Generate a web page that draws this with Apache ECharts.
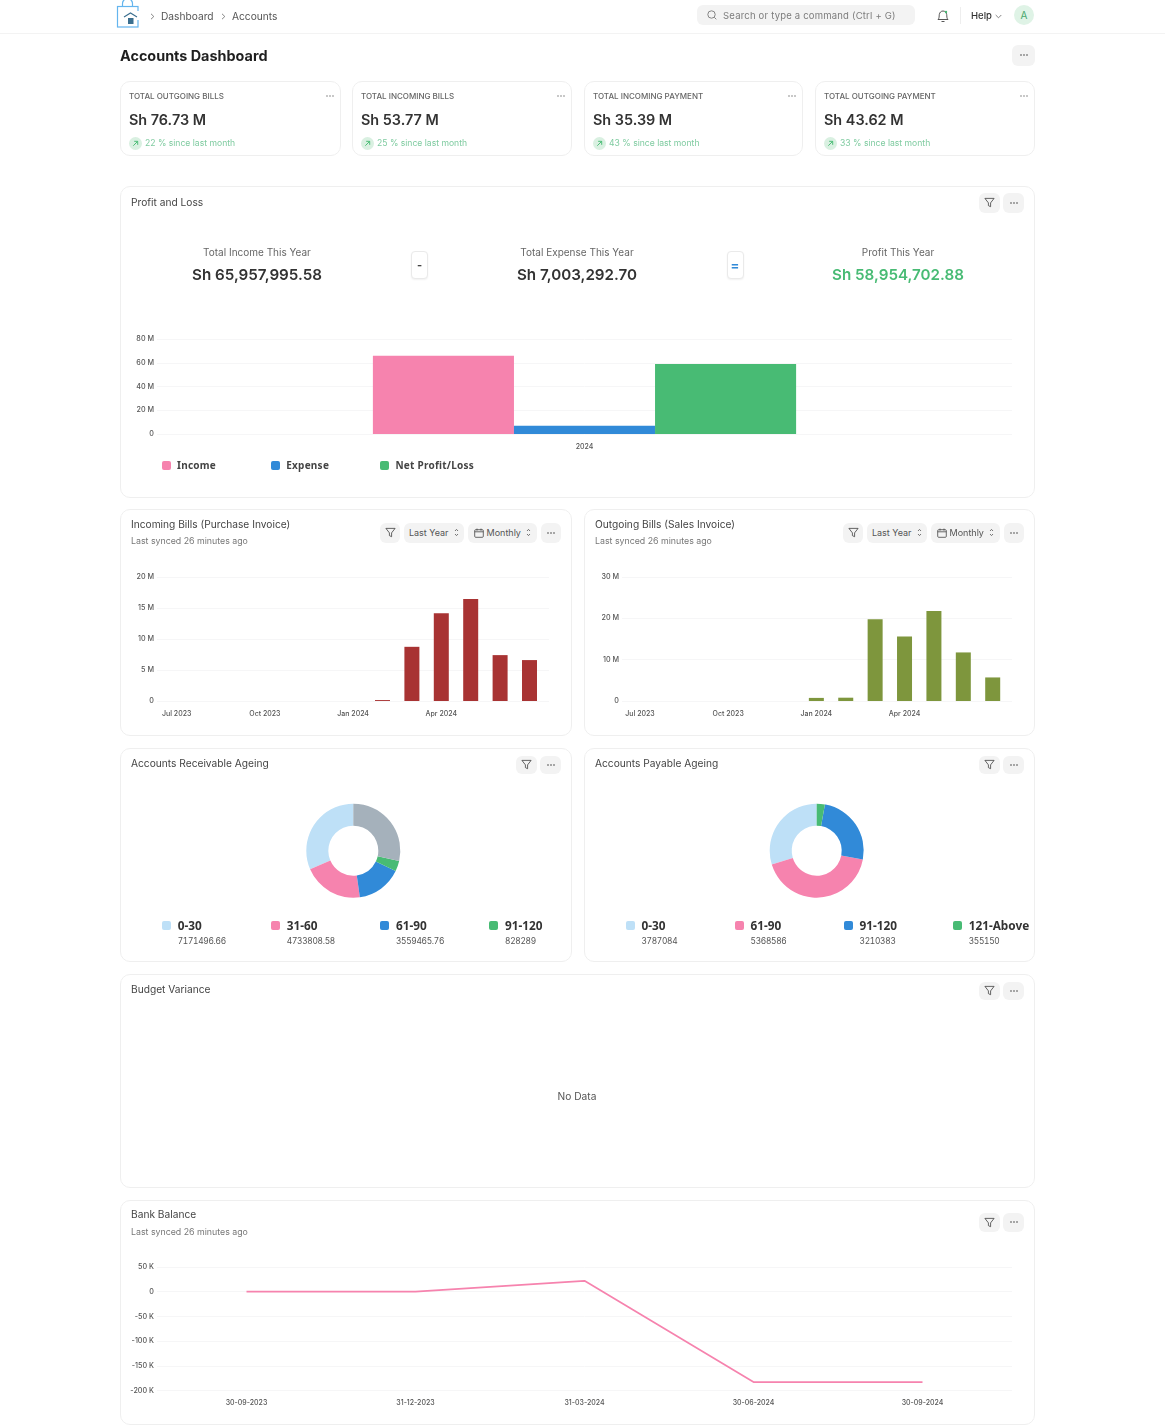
<!doctype html>
<html lang="en">

<head>
    <meta charset="utf-8">
    <title>Accounts Dashboard</title>
    <script src="https://cdn.jsdelivr.net/npm/echarts@6/dist/echarts.min.js"></script>
    <style>
        html, body { margin: 0; background: #fff; }
        body { position: relative; width: 1165px; height: 1428px; overflow: hidden; font-family: Inter, "Noto Sans", sans-serif; color: #444; }
        #page { position: absolute; left: 0; top: 0; width: 1165px; height: 1428px; filter: blur(.3px); }
        .abs { position: absolute; white-space: nowrap; line-height: 1; }
        .abs svg { display: block; }
        .card { position: absolute; box-sizing: border-box; border: 1px solid #efefef; border-radius: 10px; background: #fff; }
        .btn { position: absolute; box-sizing: border-box; background: #f3f3f3; border-radius: 6px; display: flex; align-items: center; justify-content: center; font-size: 9px; line-height: 1; padding-bottom: 1px; color: #555; gap: 3px; white-space: nowrap; }
        .chart { position: absolute; }
        .sw { position: absolute; width: 9px; height: 9px; border-radius: 2px; }
        .op { position: absolute; box-sizing: border-box; width: 17px; height: 28px; background: #fff; border: 1px solid #eaeaea; border-radius: 4px; display: flex; align-items: center; justify-content: center; font-size: 11px; font-weight: 700; box-shadow: 0 1px 2px rgba(0,0,0,.06); }
    </style>
</head>

<body>
    <div id="page"></div>
    <script>
        // data
        var kpiLabels = ['TOTAL OUTGOING BILLS', 'TOTAL INCOMING BILLS', 'TOTAL INCOMING PAYMENT', 'TOTAL OUTGOING PAYMENT'];
        var kpiValues = ['Sh 76.73 M', 'Sh 53.77 M', 'Sh 35.39 M', 'Sh 43.62 M'];
        var kpiChanges = [22, 25, 43, 33];

        var plLabels = ['2024'];
        var plNames = ['Income', 'Expense', 'Net Profit/Loss'];
        var plValues = [65957995.58, 7003292.70, 58954702.88];

        var months = ['Jul 2023', 'Aug 2023', 'Sep 2023', 'Oct 2023', 'Nov 2023', 'Dec 2023', 'Jan 2024', 'Feb 2024', 'Mar 2024', 'Apr 2024', 'May 2024', 'Jun 2024', 'Jul 2024'];
        var incomingBills = [0, 0, 0, 0, 0, 0, 0, 150000, 8740000, 14150000, 16460000, 7400000, 6600000];
        var outgoingBills = [0, 0, 0, 0, 0, 0, 750000, 800000, 19800000, 15600000, 21800000, 11750000, 5700000];

        var receivableNames = ['0-30', '31-60', '61-90', '91-120', '121-Above'];
        var receivableValues = [7171496.66, 4733808.58, 3559465.76, 828289, 6500000];
        var payableNames = ['0-30', '61-90', '91-120', '121-Above'];
        var payableValues = [3787084, 5368586, 3210383, 355150];

        var bankDates = ['30-09-2023', '31-12-2023', '31-03-2024', '30-06-2024', '30-09-2024'];
        var bankValues = [0, 0, 22000, -183000, -183000];

        var PINK = '#f683ae', BLUE = '#318ad8', GREEN = '#48bb74', LIGHT = '#bee0f7', GREY = '#a5b1bb';
        var legendColors = [LIGHT, PINK, BLUE, GREEN];

        var page = document.getElementById('page');
        function add(html) { page.insertAdjacentHTML('beforeend', html); }
        function text(x, cy, size, str, extra) {
            add('<div class="abs" style="left:' + x + 'px;top:' + (cy - size / 2) + 'px;font-size:' + size + 'px;' + (extra || '') + '">' + str + '</div>');
        }
        function centerText(cx, cy, size, str, extra) {
            text(cx, cy, size, str, 'transform:translateX(-50%);' + (extra || ''));
        }
        function card(x, y, x2, y2) {
            add('<div class="card" style="left:' + x + 'px;top:' + y + 'px;width:' + (x2 - x) + 'px;height:' + (y2 - y) + 'px"></div>');
        }
        function btn(x, y, x2, y2, inner) {
            add('<div class="btn" style="left:' + x + 'px;top:' + y + 'px;width:' + (x2 - x) + 'px;height:' + (y2 - y) + 'px">' + inner + '</div>');
        }

        var icoDots = '<svg width="10" height="4" viewBox="0 0 10 4"><g fill="#444"><circle cx="2" cy="2" r=".8"/><circle cx="5" cy="2" r=".8"/><circle cx="8" cy="2" r=".8"/></g></svg>';
        var icoFilter = '<svg width="11" height="11" viewBox="0 0 12 12" fill="none" stroke="#444" stroke-width=".9"><path d="M1 1.5h10L7.2 6.4v4.2L4.8 9.4v-3z"/></svg>';
        var icoSort = '<svg width="5" height="9" viewBox="0 0 5 9" fill="none" stroke="#555" stroke-width=".8"><path d="M1 3l1.500-1.600L4 3M1 6l1.500 1.600L4 6"/></svg>';
        var icoCal = '<svg width="10" height="10" viewBox="0 0 10 10" fill="none" stroke="#444" stroke-width=".8"><rect x=".7" y="1.700" width="8.600" height="7.600" rx="1"/><path d="M.7 3.800h8.600M3 .6v2M7 .6v2"/></svg>';
        var icoArrow = '<svg width="7" height="7" viewBox="0 0 8 8" fill="none" stroke="#48bb74" stroke-width="1.100"><path d="M1.500 6.500l5-5M2.500 1.500h4v4"/></svg>';
        var icoChevron = '<svg width="5" height="7" viewBox="0 0 5 7" fill="none" stroke="#666" stroke-width=".8"><path d="M1 .8l2.800 2.700L1 6.200"/></svg>';

        // navbar
        add('<div class="abs" style="left:0;top:33px;width:1165px;height:1px;background:#f3f3f3"></div>');
        add('<svg class="abs" style="left:116px;top:0" width="26" height="28" viewBox="0 0 26 28" fill="none"><rect x="1.500" y="6.500" width="20.500" height="20.500" stroke="#64b5ee" stroke-width="1.200"/><path d="M6.500 6.500V3.500a5 5 0 0 1 10 0v3" stroke="#64b5ee" stroke-width="1.200"/><rect x="5" y="11" width="19" height="9" fill="#fff"/><path d="M8 17l6.500-4 6.500 4" stroke="#3b6f8f" stroke-width="1.100"/><rect x="12" y="18" width="5.500" height="6" fill="#3b6f8f"/></svg>');
        add('<div class="abs" style="left:149.500px;top:13px">' + icoChevron + '</div>');
        text(161, 16.500, 10.200, 'Dashboard', 'color:#555');
        add('<div class="abs" style="left:220.500px;top:13px">' + icoChevron + '</div>');
        text(232, 16.500, 10.200, 'Accounts', 'color:#555');
        add('<div class="abs" style="left:697px;top:5px;width:218px;height:20px;background:#f3f3f3;border-radius:6px"></div>');
        add('<svg class="abs" style="left:707px;top:10px" width="10" height="10" viewBox="0 0 10 10" fill="none" stroke="#777" stroke-width=".9"><circle cx="4.500" cy="4.500" r="3.700"/><path d="M7.300 7.300L9.300 9.300"/></svg>');
        text(723, 16, 9.500, 'Search or type a command (Ctrl + G)', 'color:#7c7c7c;letter-spacing:.2px');
        add('<svg class="abs" style="left:937px;top:9px" width="12" height="14" viewBox="0 0 12 14" fill="none" stroke="#444" stroke-width=".9"><path d="M1 10.500c1.500-1.500 1-3 1.300-5C2.600 3.500 4 2 6 2s3.400 1.500 3.700 3.500c.3 2-.2 3.500 1.300 5zM4.500 12.500h3"/><circle cx="9" cy="3" r="1.200" fill="#48bb74" stroke="none"/></svg>');
        add('<div class="abs" style="left:960px;top:7px;width:1px;height:17px;background:#eee"></div>');
        text(971, 16, 9.500, 'Help', 'color:#333;font-weight:500');
        add('<svg class="abs" style="left:995px;top:14px" width="7" height="5" viewBox="0 0 7 5" fill="none" stroke="#666" stroke-width=".8"><path d="M.7 1l2.800 2.800L6.300 1"/></svg>');
        add('<div class="abs" style="left:1014px;top:5px;width:20px;height:20px;border-radius:50%;background:#dff3e6;color:#48a86c;font-size:10px;display:flex;align-items:center;justify-content:center">A</div>');

        // heading
        text(120, 56.200, 14.400, 'Accounts Dashboard', 'color:#1f1f1f;font-weight:700');
        btn(1012, 45, 1035, 66, icoDots);

        // kpi cards
        var kpiX = [[120, 341], [352, 572], [584, 803], [815, 1035]];
        kpiX.forEach(function (r, i) {
            card(r[0], 81, r[1], 156);
            var l = r[0] + 9;
            text(l, 96, 8, kpiLabels[i], 'color:#666;font-weight:500');
            text(l, 120, 14.400, kpiValues[i], 'color:#333;font-weight:600');
            add('<div class="abs" style="left:' + l + 'px;top:137px;width:13px;height:13px;border-radius:50%;background:#d9f0e1;display:flex;align-items:center;justify-content:center">' + icoArrow + '</div>');
            text(l + 16, 143.500, 8.600, kpiChanges[i] + ' % since last month', 'color:#7fcba0');
            add('<svg class="abs" style="left:' + (r[1] - 16) + 'px;top:93.500px" width="10" height="4" viewBox="0 0 10 4"><g fill="#666"><circle cx="2" cy="2" r=".7"/><circle cx="5" cy="2" r=".7"/><circle cx="8" cy="2" r=".7"/></g></svg>');
        });

        // profit and loss
        card(120, 186, 1035, 497.500);
        text(131, 202, 10.200, 'Profit and Loss', 'color:#444');
        btn(979, 193, 1000, 213, icoFilter);
        btn(1003, 193, 1024, 213, icoDots);
        centerText(257, 252, 10, 'Total Income This Year', 'color:#666');
        centerText(257, 274.500, 15.200, 'Sh 65,957,995.58', 'color:#333;font-weight:600');
        centerText(577, 252, 10, 'Total Expense This Year', 'color:#666');
        centerText(577, 274.500, 15.200, 'Sh 7,003,292.70', 'color:#333;font-weight:600');
        centerText(898, 252, 10, 'Profit This Year', 'color:#666');
        centerText(898, 274.500, 15.200, 'Sh 58,954,702.88', 'color:' + GREEN + ';font-weight:600');
        add('<div class="op" style="left:411px;top:251px;color:#444">-</div>');
        add('<div class="op" style="left:726.500px;top:251px;color:' + BLUE + ';font-size:13px">=</div>');
        [PINK, BLUE, GREEN].forEach(function (c, i) {
            var x = 162 + i * 109.200;
            add('<div class="sw" style="left:' + x + 'px;top:461px;background:' + c + '"></div>');
            text(x + 15, 465, 10, plNames[i], 'color:#444;font-family:\'Noto Sans\',sans-serif;font-weight:700;letter-spacing:.25px');
        });

        // bills cards
        function billsChrome(x, x2, title, cx) {
            card(x, 509, x2, 736);
            text(x + 11, 524.500, 10.200, title);
            text(x + 11, 541.500, 8.800, 'Last synced 26 minutes ago', 'color:#777');
            btn(cx, 523, cx + 20, 543, icoFilter);
            btn(cx + 24, 523, cx + 84, 543, 'Last Year&nbsp;' + icoSort);
            btn(cx + 88, 523, cx + 157, 543, icoCal + 'Monthly&nbsp;' + icoSort);
            btn(cx + 161, 523, cx + 181, 543, icoDots);
        }
        billsChrome(120, 572, 'Incoming Bills (Purchase Invoice)', 380);
        billsChrome(584, 1035, 'Outgoing Bills (Sales Invoice)', 843);

        // ageing cards
        function ageingChrome(x, x2, title, names, values, swX, fx) {
            card(x, 748, x2, 962);
            text(x + 11, 763.500, 10.200, title);
            btn(fx, 756, fx + 21, 774, icoFilter);
            btn(fx + 24, 756, fx + 45, 774, icoDots);
            for (var i = 0; i < 4; i++) {
                var sx = swX + i * 109.100;
                add('<div class="sw" style="left:' + sx + 'px;top:921px;background:' + legendColors[i] + '"></div>');
                text(sx + 15.700, 925.500, 11.800, names[i], 'color:#333;font-family:\'Noto Sans\',sans-serif;font-weight:700');
                text(sx + 15.700, 941, 8.400, String(values[i]), 'color:#555;font-variant-numeric:tabular-nums;letter-spacing:-.3px');
            }
        }
        ageingChrome(120, 572, 'Accounts Receivable Ageing', receivableNames, receivableValues, 162, 516);
        ageingChrome(584, 1035, 'Accounts Payable Ageing', payableNames, payableValues, 625.700, 979);

        // budget variance
        card(120, 974, 1035, 1188);
        text(131, 989.500, 10.200, 'Budget Variance');
        btn(979, 982, 1000, 1000, icoFilter);
        btn(1003, 982, 1024, 1000, icoDots);
        centerText(577, 1096.500, 10.200, 'No Data', 'color:#555');

        // bank balance
        card(120, 1200, 1035, 1424.500);
        text(131, 1214.500, 10.200, 'Bank Balance');
        text(131, 1232, 8.800, 'Last synced 26 minutes ago', 'color:#777');
        btn(979, 1213, 1000, 1232, icoFilter);
        btn(1003, 1213, 1024, 1232, icoDots);

        // charts
        var AXIS_COLOR = '#555';

        // box: chart div; g: area of the grid lines; inner: left/right of the category band
        function axisChart(box, g, inner, yScale, cats, labelFilter, series, fmt) {
            var div = document.createElement('div');
            div.className = 'chart';
            div.style.cssText = 'left:' + box.x + 'px;top:' + box.y + 'px;width:' + box.w + 'px;height:' + box.h + 'px';
            page.appendChild(div);
            var chart = echarts.init(div, null, { renderer: 'canvas' });
            var top = g.top - box.y, height = g.bottom - g.top;
            series.forEach(function (s) { s.xAxisIndex = 1; s.yAxisIndex = 1; s.silent = true; s.animation = false; });
            chart.setOption({
                animation: false,
                grid: [
                    { left: g.left - box.x, width: g.right - g.left, top: top, height: height },
                    { left: inner.left - box.x, width: inner.right - inner.left, top: top, height: height }
                ],
                xAxis: [
                    { gridIndex: 0, type: 'category', data: cats, show: false },
                    {
                        gridIndex: 1, type: 'category', data: cats, position: 'bottom',
                        axisLine: { show: false },
                        axisTick: { alignWithLabel: true, length: 3, lineStyle: { color: '#ececec' } },
                        axisLabel: { margin: 9, interval: labelFilter, fontFamily: 'Inter', fontSize: 7, fontWeight: 500, color: AXIS_COLOR }
                    }
                ],
                yAxis: [
                    {
                        gridIndex: 0, type: 'value', min: yScale.min, max: yScale.max, interval: yScale.step,
                        axisLine: { show: false }, axisTick: { show: false },
                        splitLine: { lineStyle: { color: '#f6f6f7', width: 1 } },
                        axisLabel: { margin: 3, formatter: fmt, padding: [3, 0, 0, 0], fontFamily: 'Inter', fontSize: 7.200, fontWeight: 500, color: AXIS_COLOR }
                    },
                    { gridIndex: 1, type: 'value', min: yScale.min, max: yScale.max, interval: yScale.step, show: false, splitLine: { show: false } }
                ],
                series: series
            });
        }

        function millions(v) { return v === 0 ? '0' : (v / 1e6) + ' M'; }
        function thousands(v) { return v === 0 ? '0' : (v / 1e3) + ' K'; }
        function quarterly(i) { return i % 3 === 0 && i < 12; }

        axisChart({ x: 120, y: 325, w: 915, h: 130 }, { left: 157, right: 1012, top: 339, bottom: 434 }, { left: 157, right: 1012 },
            { min: 0, max: 80000000, step: 20000000 }, plLabels, 0,
            plNames.map(function (n, i) {
                return { name: n, type: 'bar', barGap: 0, barCategoryGap: '50.5%', data: [plValues[i]], itemStyle: { color: [PINK, BLUE, GREEN][i] } };
            }), millions);

        axisChart({ x: 120, y: 565, w: 452, h: 160 }, { left: 157, right: 549, top: 577, bottom: 701 }, { left: 162, right: 544.200 },
            { min: 0, max: 20000000, step: 5000000 }, months, quarterly,
            [{ type: 'bar', barWidth: 15, data: incomingBills, itemStyle: { color: '#a83333' } }], millions);

        axisChart({ x: 584, y: 565, w: 451, h: 160 }, { left: 622, right: 1012, top: 577, bottom: 701 }, { left: 625.300, right: 1007.400 },
            { min: 0, max: 30000000, step: 10000000 }, months, quarterly,
            [{ type: 'bar', barWidth: 15, data: outgoingBills, itemStyle: { color: '#7e963d' } }], millions);

        axisChart({ x: 120, y: 1255, w: 915, h: 160 }, { left: 157, right: 1012, top: 1267, bottom: 1390.500 }, { left: 162, right: 1007 },
            { min: -200000, max: 50000, step: 50000 }, bankDates, 0,
            [{ type: 'line', data: bankValues, showSymbol: false, lineStyle: { color: PINK, width: 1.700 }, itemStyle: { color: PINK } }], thousands);

        function donut(box, cx, cy, names, values, colors) {
            var div = document.createElement('div');
            div.className = 'chart';
            div.style.cssText = 'left:' + box.x + 'px;top:' + box.y + 'px;width:' + box.w + 'px;height:' + box.h + 'px';
            page.appendChild(div);
            echarts.init(div).setOption({
                animation: false,
                series: [{
                    type: 'pie', silent: true, clockwise: false, startAngle: 90,
                    center: [cx - box.x, cy - box.y], radius: [25, 47],
                    label: { show: false }, labelLine: { show: false },
                    data: names.map(function (n, i) { return { name: n, value: values[i], itemStyle: { color: colors[i] } }; })
                }]
            });
        }
        donut({ x: 250, y: 790, w: 210, h: 122 }, 353.300, 850.700, receivableNames, receivableValues, [LIGHT, PINK, BLUE, GREEN, GREY]);
        donut({ x: 712, y: 790, w: 210, h: 122 }, 816.700, 850.700, payableNames, payableValues, [LIGHT, PINK, BLUE, GREEN]);
    </script>
</body>

</html>
